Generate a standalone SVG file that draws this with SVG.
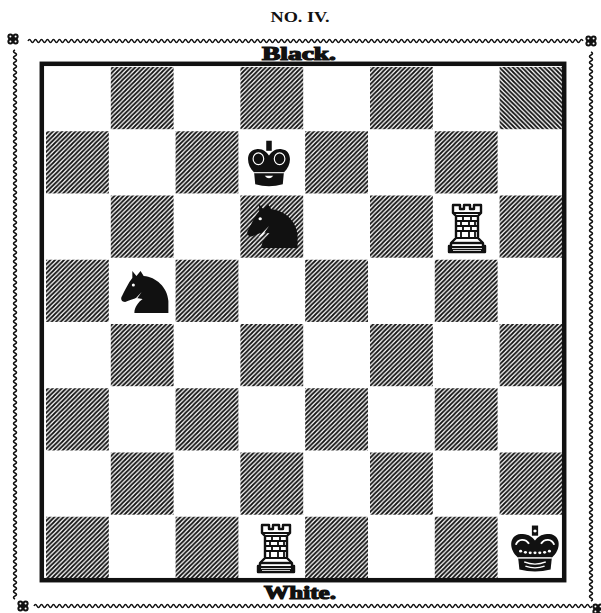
<svg xmlns="http://www.w3.org/2000/svg" width="601" height="613" viewBox="0 0 601 613">
  <style>
    .d { fill: url(#hatch); }
    .d2 { fill: url(#hatch2); }
    .lbl { font-family: "Liberation Serif", "DejaVu Serif", serif; font-weight: bold; fill: #111; text-anchor: middle; }
    .heavy { stroke: #111; stroke-width: 1.2; }
    .wave { fill: none; stroke: #111; stroke-width: 1.5; }
  </style>
  <defs>
    <!-- diagonal hatching for the dark squares -->
    <pattern id="hatch" patternUnits="userSpaceOnUse" width="4.5" height="4.5">
      <path d="M-1,1 l2,-2 M0,4.5 l4.5,-4.5 M3.5,5.5 l2,-2" stroke="#111" stroke-width="1.8"/>
    </pattern>
    <pattern id="hatch2" patternUnits="userSpaceOnUse" width="4.5" height="4.5">
      <path d="M-1,3.5 l2,2 M0,0 l4.5,4.5 M3.5,-1 l2,2" stroke="#111" stroke-width="1.8"/>
    </pattern>

    <g id="rosette">
      <circle cx="-2.6" cy="-2.6" r="3" fill="#111"/>
      <circle cx="2.6" cy="-2.6" r="3" fill="#111"/>
      <circle cx="-2.6" cy="2.6" r="3" fill="#111"/>
      <circle cx="2.6" cy="2.6" r="3" fill="#111"/>
      <circle r="2.4" fill="#111"/>
      <circle cx="-2.6" cy="-2.6" r="1" fill="#fff"/>
      <circle cx="2.6" cy="-2.6" r="1" fill="#fff"/>
      <circle cx="-2.6" cy="2.6" r="1" fill="#fff"/>
      <circle cx="2.6" cy="2.6" r="1" fill="#fff"/>
    </g>

    <g id="rook">
      <path d="M-14,-23 h7 v4 h4 v-4 h6 v4 h4 v-4 h7 v8 l-3,3 v22 l5,5 v3 h2 v6 h-36 v-6 h2 v-3 l5,-5 v-22 l-3,-3 z"
            fill="#fff" stroke="#111" stroke-width="2.4" stroke-linejoin="round"/>
      <path d="M-14,-15 h28 M-11,-12 h22 M-11,-7 h22 M-11,-2 h22 M-11,3 h22 M-11,10 h22
               M-4,-12 v5 M4,-12 v5 M-6,-7 v5 M2,-7 v5 M8,-7 v5 M-4,-2 v5 M4,-2 v5 M-6,3 v7 M2,3 v7 M8,3 v7"
            fill="none" stroke="#111" stroke-width="1.8"/>
      <path d="M-16,15 h32" stroke="#111" stroke-width="2.4"/>
      <rect x="-18" y="18" width="36" height="6" fill="#111"/>
      <path d="M-15,20.5 h30 M-14,22.5 h28" stroke="#fff" stroke-width="0.8"/>
    </g>

    <g id="kingB">
      <rect x="-2.6" y="-21" width="5.2" height="9.5" fill="#111"/>
      <path d="M-14,9 C-22,2 -22,-12 -12,-13 C-6,-14 -2,-10 0,-7 C2,-10 6,-14 12,-13 C22,-12 22,2 14,9 Z" fill="#111"/>
      <ellipse cx="-10" cy="-4" rx="5" ry="5.5" fill="none" stroke="#fff" stroke-width="1.1"/>
      <ellipse cx="10" cy="-4" rx="5" ry="5.5" fill="none" stroke="#fff" stroke-width="1.1"/>
      <path d="M-14,9.5 L14,9.5 L13,20 Q0,24 -13,20 Z" fill="#111"/>
      <path d="M-14,9.2 H14" stroke="#fff" stroke-width="0.9"/>
      <path d="M-4,12 Q0,17 4,12 Z" fill="#fff"/>
    </g>

    <g id="kingW">
      <rect x="-2.6" y="-21" width="5.2" height="9.5" fill="#111"/>
      <circle cx="0" cy="-16" r="1.4" fill="#fff"/>
      <path d="M-14,9 C-22,2 -22,-12 -12,-13 C-6,-14 -2,-10 0,-7 C2,-10 6,-14 12,-13 C22,-12 22,2 14,9 Z" fill="#111"/>
      <path d="M-16,-3 C-14,-9 -8,-9 -5,-4 M16,-3 C14,-9 8,-9 5,-4" fill="none" stroke="#fff" stroke-width="1.6"/>
      <g fill="#fff">
        <circle cx="-12" cy="3" r="1.3"/><circle cx="-8" cy="4" r="1.3"/><circle cx="-4" cy="4.5" r="1.3"/>
        <circle cx="0" cy="4.5" r="1.3"/><circle cx="4" cy="4.5" r="1.3"/><circle cx="8" cy="4" r="1.3"/>
        <circle cx="12" cy="3" r="1.3"/>
      </g>
      <path d="M-14,9.5 L14,9.5 L13,20 Q0,24 -13,20 Z" fill="#111"/>
      <path d="M-14,9.2 H14" stroke="#fff" stroke-width="1"/>
      <path d="M-9,13 Q0,17 9,13 M-8,17 Q0,20 8,17" fill="none" stroke="#fff" stroke-width="1.2"/>
    </g>

    <g id="knight">
      <path d="M11,0 L15,5 L19,0 L22,5 C34,6 45,16 46,30 L46,42 L13,42 C13,36 17,31 21,28 L15,27 C11,28 7,30 4,31 C1,31 -1,28 1,25 C4,19 7,12 11,7 Z" fill="#111"/>
      <circle cx="12" cy="14" r="1.5" fill="#fff"/>
      <path d="M10,32 L20,21 L14,30 Z" fill="#fff"/>
    </g>
  </defs>

  <rect width="601" height="613" fill="#fff"/>

  <text class="lbl" x="300" y="22" font-size="14" textLength="59" lengthAdjust="spacingAndGlyphs">NO. IV.</text>

  <!-- outer ornamental border: wavy rules with rosettes at the corners -->
  <g id="border">
    <path class="wave" d="M28,41 q1.5,-3 3,0
      t3,0 t3,0 t3,0 t3,0 t3,0 t3,0 t3,0 t3,0 t3,0 t3,0 t3,0 t3,0 t3,0 t3,0 t3,0 t3,0 t3,0 t3,0 t3,0 t3,0
      t3,0 t3,0 t3,0 t3,0 t3,0 t3,0 t3,0 t3,0 t3,0 t3,0 t3,0 t3,0 t3,0 t3,0 t3,0 t3,0 t3,0 t3,0 t3,0 t3,0
      t3,0 t3,0 t3,0 t3,0 t3,0 t3,0 t3,0 t3,0 t3,0 t3,0 t3,0 t3,0 t3,0 t3,0 t3,0 t3,0 t3,0 t3,0 t3,0 t3,0
      t3,0 t3,0 t3,0 t3,0 t3,0 t3,0 t3,0 t3,0 t3,0 t3,0 t3,0 t3,0 t3,0 t3,0 t3,0 t3,0 t3,0 t3,0 t3,0 t3,0
      t3,0 t3,0 t3,0 t3,0 t3,0 t3,0 t3,0 t3,0 t3,0 t3,0 t3,0 t3,0 t3,0 t3,0 t3,0 t3,0 t3,0 t3,0 t3,0 t3,0
      t3,0 t3,0 t3,0 t3,0 t3,0 t3,0 t3,0 t3,0 t3,0 t3,0 t3,0 t3,0 t3,0 t3,0 t3,0 t3,0 t3,0 t3,0 t3,0 t3,0
      t3,0 t3,0 t3,0 t3,0 t3,0 t3,0 t3,0 t3,0 t3,0 t3,0 t3,0 t3,0 t3,0 t3,0 t3,0 t3,0 t3,0 t3,0 t3,0 t3,0
      t3,0 t3,0 t3,0 t3,0 t3,0 t3,0 t3,0 t3,0 t3,0 t3,0 t3,0 t3,0 t3,0 t3,0 t3,0 t3,0 t3,0 t3,0 t3,0 t3,0
      t3,0 t3,0 t3,0 t3,0 t3,0 t3,0 t3,0 t3,0 t3,0 t3,0 t3,0 t3,0 t3,0 t3,0 t3,0 t3,0 t3,0 t3,0 t3,0 t3,0
      t3,0 t3,0 t3,0 t3,0"/>
    <path class="wave" d="M34,606 q1.5,-3 3,0
      t3,0 t3,0 t3,0 t3,0 t3,0 t3,0 t3,0 t3,0 t3,0 t3,0 t3,0 t3,0 t3,0 t3,0 t3,0 t3,0 t3,0 t3,0 t3,0 t3,0
      t3,0 t3,0 t3,0 t3,0 t3,0 t3,0 t3,0 t3,0 t3,0 t3,0 t3,0 t3,0 t3,0 t3,0 t3,0 t3,0 t3,0 t3,0 t3,0 t3,0
      t3,0 t3,0 t3,0 t3,0 t3,0 t3,0 t3,0 t3,0 t3,0 t3,0 t3,0 t3,0 t3,0 t3,0 t3,0 t3,0 t3,0 t3,0 t3,0 t3,0
      t3,0 t3,0 t3,0 t3,0 t3,0 t3,0 t3,0 t3,0 t3,0 t3,0 t3,0 t3,0 t3,0 t3,0 t3,0 t3,0 t3,0 t3,0 t3,0 t3,0
      t3,0 t3,0 t3,0 t3,0 t3,0 t3,0 t3,0 t3,0 t3,0 t3,0 t3,0 t3,0 t3,0 t3,0 t3,0 t3,0 t3,0 t3,0 t3,0 t3,0
      t3,0 t3,0 t3,0 t3,0 t3,0 t3,0 t3,0 t3,0 t3,0 t3,0 t3,0 t3,0 t3,0 t3,0 t3,0 t3,0 t3,0 t3,0 t3,0 t3,0
      t3,0 t3,0 t3,0 t3,0 t3,0 t3,0 t3,0 t3,0 t3,0 t3,0 t3,0 t3,0 t3,0 t3,0 t3,0 t3,0 t3,0 t3,0 t3,0 t3,0
      t3,0 t3,0 t3,0 t3,0 t3,0 t3,0 t3,0 t3,0 t3,0 t3,0 t3,0 t3,0 t3,0 t3,0 t3,0 t3,0 t3,0 t3,0 t3,0 t3,0
      t3,0 t3,0 t3,0 t3,0 t3,0 t3,0 t3,0 t3,0 t3,0 t3,0 t3,0 t3,0 t3,0 t3,0 t3,0 t3,0 t3,0 t3,0 t3,0 t3,0
      t3,0 t3,0 t3,0 t3,0 t3,0"/>
    <path class="wave" d="M15,50 q-3,1.5 0,3
      t0,3 t0,3 t0,3 t0,3 t0,3 t0,3 t0,3 t0,3 t0,3 t0,3 t0,3 t0,3 t0,3 t0,3 t0,3 t0,3 t0,3 t0,3 t0,3 t0,3
      t0,3 t0,3 t0,3 t0,3 t0,3 t0,3 t0,3 t0,3 t0,3 t0,3 t0,3 t0,3 t0,3 t0,3 t0,3 t0,3 t0,3 t0,3 t0,3 t0,3
      t0,3 t0,3 t0,3 t0,3 t0,3 t0,3 t0,3 t0,3 t0,3 t0,3 t0,3 t0,3 t0,3 t0,3 t0,3 t0,3 t0,3 t0,3 t0,3 t0,3
      t0,3 t0,3 t0,3 t0,3 t0,3 t0,3 t0,3 t0,3 t0,3 t0,3 t0,3 t0,3 t0,3 t0,3 t0,3 t0,3 t0,3 t0,3 t0,3 t0,3
      t0,3 t0,3 t0,3 t0,3 t0,3 t0,3 t0,3 t0,3 t0,3 t0,3 t0,3 t0,3 t0,3 t0,3 t0,3 t0,3 t0,3 t0,3 t0,3 t0,3
      t0,3 t0,3 t0,3 t0,3 t0,3 t0,3 t0,3 t0,3 t0,3 t0,3 t0,3 t0,3 t0,3 t0,3 t0,3 t0,3 t0,3 t0,3 t0,3 t0,3
      t0,3 t0,3 t0,3 t0,3 t0,3 t0,3 t0,3 t0,3 t0,3 t0,3 t0,3 t0,3 t0,3 t0,3 t0,3 t0,3 t0,3 t0,3 t0,3 t0,3
      t0,3 t0,3 t0,3 t0,3 t0,3 t0,3 t0,3 t0,3 t0,3 t0,3 t0,3 t0,3 t0,3 t0,3 t0,3 t0,3 t0,3 t0,3 t0,3 t0,3
      t0,3 t0,3 t0,3 t0,3 t0,3 t0,3 t0,3 t0,3 t0,3 t0,3 t0,3 t0,3 t0,3 t0,3 t0,3 t0,3 t0,3 t0,3 t0,3 t0,3
      t0,3 t0,3"/>
    <path class="wave" d="M591,52 q3,1.5 0,3
      t0,3 t0,3 t0,3 t0,3 t0,3 t0,3 t0,3 t0,3 t0,3 t0,3 t0,3 t0,3 t0,3 t0,3 t0,3 t0,3 t0,3 t0,3 t0,3 t0,3
      t0,3 t0,3 t0,3 t0,3 t0,3 t0,3 t0,3 t0,3 t0,3 t0,3 t0,3 t0,3 t0,3 t0,3 t0,3 t0,3 t0,3 t0,3 t0,3 t0,3
      t0,3 t0,3 t0,3 t0,3 t0,3 t0,3 t0,3 t0,3 t0,3 t0,3 t0,3 t0,3 t0,3 t0,3 t0,3 t0,3 t0,3 t0,3 t0,3 t0,3
      t0,3 t0,3 t0,3 t0,3 t0,3 t0,3 t0,3 t0,3 t0,3 t0,3 t0,3 t0,3 t0,3 t0,3 t0,3 t0,3 t0,3 t0,3 t0,3 t0,3
      t0,3 t0,3 t0,3 t0,3 t0,3 t0,3 t0,3 t0,3 t0,3 t0,3 t0,3 t0,3 t0,3 t0,3 t0,3 t0,3 t0,3 t0,3 t0,3 t0,3
      t0,3 t0,3 t0,3 t0,3 t0,3 t0,3 t0,3 t0,3 t0,3 t0,3 t0,3 t0,3 t0,3 t0,3 t0,3 t0,3 t0,3 t0,3 t0,3 t0,3
      t0,3 t0,3 t0,3 t0,3 t0,3 t0,3 t0,3 t0,3 t0,3 t0,3 t0,3 t0,3 t0,3 t0,3 t0,3 t0,3 t0,3 t0,3 t0,3 t0,3
      t0,3 t0,3 t0,3 t0,3 t0,3 t0,3 t0,3 t0,3 t0,3 t0,3 t0,3 t0,3 t0,3 t0,3 t0,3 t0,3 t0,3 t0,3 t0,3 t0,3
      t0,3 t0,3 t0,3 t0,3 t0,3 t0,3 t0,3 t0,3 t0,3 t0,3 t0,3 t0,3 t0,3 t0,3 t0,3 t0,3 t0,3 t0,3 t0,3 t0,3
      t0,3 t0,3"/>
    <use href="#rosette" x="13" y="39"/>
    <use href="#rosette" x="591" y="41"/>
    <use href="#rosette" x="23" y="606"/>
    <use href="#rosette" x="598" y="609"/>
  </g>

  <text class="lbl heavy" x="299" y="60" font-size="18" textLength="74" lengthAdjust="spacingAndGlyphs">Black.</text>
  <text class="lbl heavy" x="300" y="599" font-size="18" textLength="72" lengthAdjust="spacingAndGlyphs">White.</text>

  <!-- board: dark squares (inset 1px) -->
  <g id="board">
    <rect class="d" x="110.8" y="67" width="62.8" height="62.2"/>
    <rect class="d" x="240.4" y="67" width="62.8" height="62.2"/>
    <rect class="d" x="370" y="67" width="62.8" height="62.2"/>
    <rect class="d2" x="499.6" y="67" width="62.8" height="62.2"/>

    <rect class="d" x="46" y="131.25" width="62.8" height="62.2"/>
    <rect class="d" x="175.6" y="131.25" width="62.8" height="62.2"/>
    <rect class="d" x="305.2" y="131.25" width="62.8" height="62.2"/>
    <rect class="d" x="434.8" y="131.25" width="62.8" height="62.2"/>

    <rect class="d" x="110.8" y="195.5" width="62.8" height="62.2"/>
    <rect class="d" x="240.4" y="195.5" width="62.8" height="62.2"/>
    <rect class="d" x="370" y="195.5" width="62.8" height="62.2"/>
    <rect class="d" x="499.6" y="195.5" width="62.8" height="62.2"/>

    <rect class="d" x="46" y="259.75" width="62.8" height="62.2"/>
    <rect class="d" x="175.6" y="259.75" width="62.8" height="62.2"/>
    <rect class="d" x="305.2" y="259.75" width="62.8" height="62.2"/>
    <rect class="d" x="434.8" y="259.75" width="62.8" height="62.2"/>

    <rect class="d" x="110.8" y="324" width="62.8" height="62.2"/>
    <rect class="d" x="240.4" y="324" width="62.8" height="62.2"/>
    <rect class="d" x="370" y="324" width="62.8" height="62.2"/>
    <rect class="d" x="499.6" y="324" width="62.8" height="62.2"/>

    <rect class="d" x="46" y="388.25" width="62.8" height="62.2"/>
    <rect class="d" x="175.6" y="388.25" width="62.8" height="62.2"/>
    <rect class="d" x="305.2" y="388.25" width="62.8" height="62.2"/>
    <rect class="d" x="434.8" y="388.25" width="62.8" height="62.2"/>

    <rect class="d" x="110.8" y="452.5" width="62.8" height="62.2"/>
    <rect class="d" x="240.4" y="452.5" width="62.8" height="62.2"/>
    <rect class="d" x="370" y="452.5" width="62.8" height="62.2"/>
    <rect class="d" x="499.6" y="452.5" width="62.8" height="62.2"/>

    <rect class="d" x="46" y="516.75" width="62.8" height="62.2"/>
    <rect class="d" x="175.6" y="516.75" width="62.8" height="62.2"/>
    <rect class="d" x="305.2" y="516.75" width="62.8" height="62.2"/>
    <rect class="d" x="434.8" y="516.75" width="62.8" height="62.2"/>

    <!-- frame -->
    <rect x="41.8" y="63.8" width="522.4" height="516.4" fill="none" stroke="#111" stroke-width="4.5"/>
  </g>

  <!-- pieces -->
  <g id="black-king-d7"><use href="#kingB" transform="translate(269,163) scale(1.06)"/></g>
  <g id="black-knight-d6"><use href="#knight" transform="translate(247,204) scale(1.1,1.05)"/></g>
  <g id="black-knight-b5"><use href="#knight" transform="translate(121,271) scale(1.03,1)"/></g>
  <g id="white-rook-g6"><use href="#rook" transform="translate(467,228)"/></g>
  <g id="white-rook-d1"><use href="#rook" transform="translate(276,548)"/></g>
  <g id="white-king-h1"><use href="#kingW" transform="translate(535,548) scale(1.2,1.07)"/></g>
</svg>
